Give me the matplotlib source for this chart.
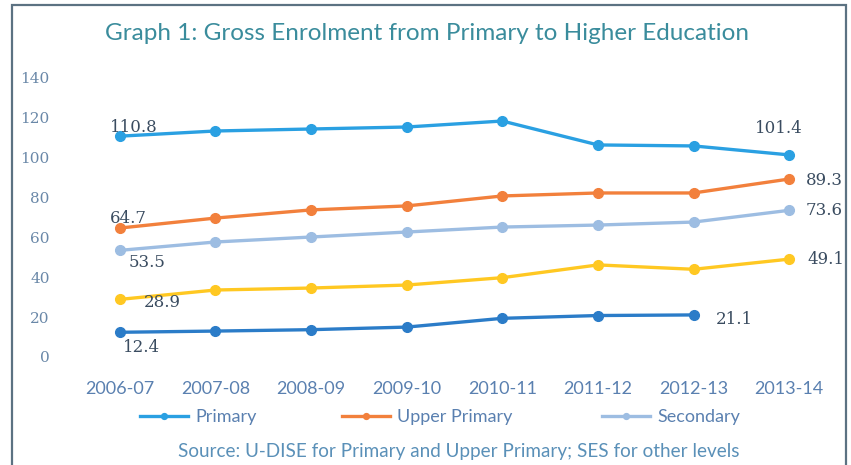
import numpy as np
import matplotlib
matplotlib.use("Agg")
import matplotlib.pyplot as plt
from matplotlib.patches import Rectangle

years = ["2006-07", "2007-08", "2008-09", "2009-10", "2010-11",
         "2011-12", "2012-13", "2013-14"]
primary = [110.8, 113.4, 114.4, 115.4, 118.4, 106.4, 105.9, 101.4]
upper_primary = [64.7, 69.7, 73.8, 75.8, 80.8, 82.3, 82.3, 89.3]
secondary = [53.5, 57.7, 60.2, 62.7, 65.2, 66.2, 67.7, 73.6]
senior_secondary = [28.9, 33.6, 34.6, 36.1, 39.8, 46.2, 44.0, 49.1]
higher = [12.4, 13.0, 13.7, 15.0, 19.4, 20.8, 21.1, np.nan]
y_ticks = [0, 20, 40, 60, 80, 100, 120, 140]

fig = plt.figure(figsize=(8.51, 4.65), dpi=100)
ax = fig.add_axes([0.0846, 0.2323, 0.899, 0.60])

x = np.arange(len(years))
kw = dict(marker="o", markersize=7, linewidth=2.4)
l1, = ax.plot(x, primary, color="#2aa0e2", label="Primary", **kw)
l2, = ax.plot(x, upper_primary, color="#f2803c", label="Upper Primary", **kw)
l3, = ax.plot(x, secondary, color="#9dbde2", label="Secondary", **kw)
ax.plot(x, senior_secondary, color="#ffc822", **kw)
ax.plot(x, higher, color="#2b7cc8", **kw)

ax.set_xlim(-0.5, 7.5)
ax.set_ylim(0, 140)
ax.set_yticks(y_ticks)
ax.set_xticks(x)
ax.set_xticklabels(years, family="Lato", fontsize=13, color="#5a80b0")
ax.set_yticklabels([str(v) for v in y_ticks], family="DejaVu Serif",
                   fontsize=11, color="#6a88a8")
ax.tick_params(axis="y", length=0, pad=16)
ax.tick_params(axis="x", length=0, pad=17)
for s in ax.spines.values():
    s.set_visible(False)

lab = dict(family="DejaVu Serif", fontsize=12, color="#3a4c60")
def label(txt, xi, yv, dx, dy, va="center"):
    ax.annotate(txt, (xi, yv), xytext=(dx, dy), textcoords="offset points",
                ha="left", va=va, **lab)

label("110.8", 0, primary[0], -7, 6)
label("64.7", 0, upper_primary[0], -7, 7)
label("53.5", 0, secondary[0], 6, -9)
label("28.9", 0, senior_secondary[0], 17, -2)
label("12.4", 0, higher[0], 2, -11)
label("101.4", 7, primary[7], -25, 19)
label("89.3", 7, upper_primary[7], 12, -1)
label("73.6", 7, secondary[7], 12, 0)
label("49.1", 7, senior_secondary[7], 13, 0)
label("21.1", 6, higher[6], 16, -3)

fig.text(0.502, 0.929, "Graph 1: Gross Enrolment from Primary to Higher Education",
         ha="center", va="center", family="Lato", fontsize=17.5, color="#3a8c9c")

for h, xpos in [(l1, 140), (l2, 342), (l3, 602)]:
    fig.legend(handles=[h], loc="center left", bbox_to_anchor=(xpos / 851, 0.103),
               frameon=False, markerscale=0.6, handlelength=2.65,
               handletextpad=0.4, borderpad=0, borderaxespad=0,
               prop={"family": "Lato", "size": 13}, labelcolor="#5a80b0")

fig.text(0.539, 0.028, "Source: U-DISE for Primary and Upper Primary; SES for other levels",
         ha="center", va="center", family="Lato", fontsize=13.6, color="#5a90b8")

fig.patches.append(Rectangle((12 / 851, -0.05), 834 / 851, 1.04, transform=fig.transFigure,
                             fill=False, edgecolor="#5c7282", linewidth=1.6))

fig.savefig("out.png", dpi=100)
